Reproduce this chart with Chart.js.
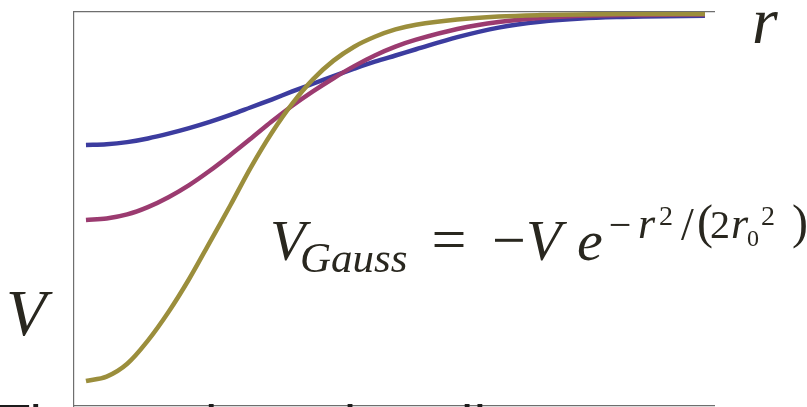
<!DOCTYPE html>
<html>
<head>
<meta charset="utf-8">
<script src="https://cdn.jsdelivr.net/npm/chart.js@4.4.1/dist/chart.umd.min.js"></script>
<style>
  html, body { margin: 0; padding: 0; background: #fff; }
  #wrap { position: relative; width: 807px; height: 407px; overflow: hidden; }
</style>
</head>
<body>
<div id="wrap"><canvas id="potentialChart" width="807" height="407"></canvas></div>
<script>
// radius, shared by the three wells
const radius = [0, 0.1, 0.2, 0.3, 0.4, 0.5, 0.6, 0.7, 0.8, 0.9, 1.0, 1.1, 1.2, 1.3, 1.4, 1.5, 1.6,
                1.8, 2.0, 2.2, 2.4, 2.6, 2.8, 3.0];

// potential V(r) for a deep narrow, a medium and a shallow wide well
const wellDeep = [-1.000, -0.988, -0.953, -0.890, -0.812, -0.722, -0.622, -0.521, -0.417, -0.324,
                  -0.244, -0.178, -0.127, -0.089, -0.062, -0.042, -0.029,
                  -0.015, -0.007, -0.003, -0.001, 0, 0, 0];
const wellMedium = [-0.561, -0.557, -0.546, -0.526, -0.499, -0.466, -0.427, -0.384, -0.339, -0.293,
                    -0.250, -0.211, -0.175, -0.142, -0.113, -0.089, -0.070,
                    -0.041, -0.022, -0.011, -0.005, -0.003, -0.002, -0.001];
const wellShallow = [-0.357, -0.355, -0.349, -0.339, -0.326, -0.311, -0.294, -0.275, -0.254, -0.233,
                     -0.211, -0.190, -0.169, -0.149, -0.130, -0.113, -0.096,
                     -0.063, -0.037, -0.021, -0.012, -0.008, -0.006, -0.005];

const rRange = [-0.058, 3.044];
const vRange = [-1.068, 0.0055];

const wells = [
    { values: wellDeep, color: '#9b8e3c' },
    { values: wellMedium, color: '#9b3b70' },
    { values: wellShallow, color: '#3c3c9f' }
];

const ink = '#29271f';
const serif = '"Liberation Serif", serif';

// formula V_Gauss = -V e^{-r^2/(2 r0^2)}, piece by piece
const formulaParts = [
    { text: 'V', x: 270, y: 260, size: 58, italic: true },
    { text: 'Gauss', x: 300, y: 272, size: 43, italic: true },
    { text: '=', x: 449, y: 260, size: 62, align: 'center' },
    { text: '\u2212', x: 509, y: 260, size: 60, align: 'center' },
    { text: 'V', x: 526, y: 260, size: 58, italic: true },
    { text: 'e', x: 577, y: 260, size: 58, italic: true },
    { text: '\u2212', x: 620, y: 238, size: 40, align: 'center' },
    { text: 'r', x: 638, y: 238, size: 44, italic: true },
    { text: '2', x: 659, y: 225, size: 28 },
    { text: '/', x: 681, y: 240, size: 46 },
    { text: '(', x: 697, y: 238, size: 48 },
    { text: '2', x: 710, y: 238, size: 40 },
    { text: 'r', x: 731, y: 238, size: 44, italic: true },
    { text: '0', x: 747, y: 246, size: 24 },
    { text: '2', x: 761, y: 225, size: 28 },
    { text: ')', x: 792, y: 238, size: 48 }
];

const textPlugin = {
    id: 'slideText',
    afterDraw(chart) {
        const ctx = chart.ctx;
        ctx.save();
        ctx.fillStyle = ink;
        ctx.textBaseline = 'alphabetic';

        ctx.font = 'italic 66px ' + serif;
        ctx.textAlign = 'left';
        ctx.fillText('r', 752, 43);
        ctx.fillText('V', 6, 335);

        formulaParts.forEach(p => {
            ctx.font = (p.italic ? 'italic ' : '') + p.size + 'px ' + serif;
            ctx.textAlign = p.align || 'left';
            ctx.fillText(p.text, p.x, p.y);
        });

        // next line of the slide, mostly below the edge
        ctx.fillStyle = '#1c1c1c';
        ctx.textAlign = 'left';
        ctx.font = '54px Lato, "Open Sans", sans-serif';
        ctx.fillText('The one bound to all', -2, 444);
        ctx.restore();
    }
};

const hiddenAxis = {
    type: 'linear',
    grid: { display: false, drawTicks: false },
    ticks: { display: false },
    border: { color: '#6e6e6e', width: 1.2 }
};

function initChart() {
    const ctx = document.getElementById('potentialChart').getContext('2d');
    new Chart(ctx, {
        type: 'line',
        data: {
            datasets: wells.map(w => ({
                data: radius.map((r, i) => ({ x: r, y: w.values[i] })),
                borderColor: w.color,
                borderWidth: 4.5,
                pointRadius: 0,
                fill: false,
                tension: 0.35
            }))
        },
        options: {
            responsive: false,
            animation: false,
            layout: { padding: { left: 74, top: 12, right: 93, bottom: 1 } },
            plugins: { legend: { display: false }, tooltip: { enabled: false } },
            scales: {
                x: { ...hiddenAxis, position: 'bottom', min: rRange[0], max: rRange[1] },
                xTop: { ...hiddenAxis, position: 'top', min: rRange[0], max: rRange[1] },
                y: { ...hiddenAxis, position: 'left', min: vRange[0], max: vRange[1] }
            }
        },
        plugins: [textPlugin]
    });
}

initChart();
</script>
</body>
</html>
